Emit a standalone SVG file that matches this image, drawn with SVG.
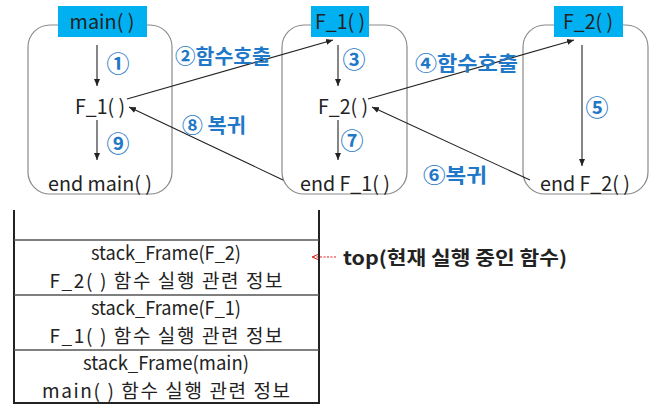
<svg xmlns="http://www.w3.org/2000/svg" width="659" height="411" viewBox="0 0 659 411">
<style>
.frame{fill:none;stroke:#8a8a8a;stroke-width:1.2}
.lbl{fill:#00B0F0}
.t{font-family:"Noto Sans CJK KR","Noto Sans",sans-serif;font-size:20px;fill:#222}
.s{font-family:"Noto Sans CJK KR","Noto Sans",sans-serif;font-size:19px;fill:#222}
.k{font-family:"Noto Sans CJK KR","Noto Sans",sans-serif;font-size:19px;fill:#222}
.c{text-anchor:middle}
.b{font-family:"Noto Sans CJK KR","Noto Sans",sans-serif;font-size:20px;font-weight:bold;fill:#1F78C8}
.n{font-family:"Noto Sans CJK KR","Noto Sans",sans-serif;font-size:23px;font-weight:bold;fill:#1F78C8;text-anchor:middle}
.ln{stroke:#222;stroke-width:1.1;fill:none;marker-end:url(#ah)}
.st{stroke:#222;stroke-width:2;fill:none}
.sep{stroke:#555;stroke-width:1.5}
</style>
<defs>
<marker id="ah" markerWidth="8" markerHeight="8" refX="7" refY="4" orient="auto" markerUnits="userSpaceOnUse">
<path d="M0,1 L7,4 L0,7 Z" fill="#222"/>
</marker>
<marker id="ahr" markerWidth="8" markerHeight="8" refX="7" refY="4" orient="auto" markerUnits="userSpaceOnUse">
<path d="M0,1 L7,4 L0,7" fill="none" stroke="#e02020" stroke-width="1"/>
</marker>
</defs>
<rect width="659" height="411" fill="#fff"/>

<g id="main">
<rect class="frame" x="28" y="25" width="144" height="169" rx="22"/>
<rect class="lbl" x="58" y="6" width="89" height="31"/>
<text class="t c" x="102" y="29" textLength="65" lengthAdjust="spacingAndGlyphs">main( )</text>
<text class="t c" x="100" y="114" textLength="50" lengthAdjust="spacingAndGlyphs">F_1( )</text>
<text class="t c" x="100" y="191" textLength="104" lengthAdjust="spacingAndGlyphs">end main( )</text>
</g>

<g id="f1">
<rect class="frame" x="282" y="25" width="125" height="169" rx="22"/>
<rect class="lbl" x="311" y="6" width="58" height="31"/>
<text class="t c" x="340" y="29" textLength="50" lengthAdjust="spacingAndGlyphs">F_1( )</text>
<text class="t c" x="343" y="114" textLength="50" lengthAdjust="spacingAndGlyphs">F_2( )</text>
<text class="t c" x="345" y="191" textLength="90" lengthAdjust="spacingAndGlyphs">end F_1( )</text>
</g>

<g id="f2">
<rect class="frame" x="523" y="25" width="125" height="169" rx="22"/>
<rect class="lbl" x="554" y="6" width="69" height="31"/>
<text class="t c" x="588" y="29" textLength="50" lengthAdjust="spacingAndGlyphs">F_2( )</text>
<text class="t c" x="585" y="191" textLength="90" lengthAdjust="spacingAndGlyphs">end F_2( )</text>
</g>

<g id="connectors">
<line class="ln" x1="97" y1="45" x2="97" y2="86"/>
<line class="ln" x1="97" y1="120" x2="97" y2="160"/>
<line class="ln" x1="338" y1="45" x2="338" y2="86"/>
<line class="ln" x1="338" y1="120" x2="338" y2="160"/>
<line class="ln" x1="582" y1="45" x2="582" y2="166"/>
<line class="ln" x1="127" y1="99" x2="333" y2="40"/>
<line class="ln" x1="283" y1="180" x2="129" y2="107"/>
<line class="ln" x1="368" y1="99" x2="574" y2="40"/>
<line class="ln" x1="530" y1="180" x2="372" y2="107"/>
<line x1="336" y1="257" x2="312" y2="257" stroke="#e02020" stroke-width="1" stroke-dasharray="2,1.5" marker-end="url(#ahr)"/>
</g>

<g id="labels">
<text class="n" x="118" y="72">①</text>
<text class="n" x="118" y="152">⑨</text>
<text class="n" x="354" y="68">③</text>
<text class="n" x="352" y="149">⑦</text>
<text class="n" x="597" y="116">⑤</text>
<text class="b" x="175" y="64" textLength="96" lengthAdjust="spacingAndGlyphs">②함수호출</text>
<text class="b" x="182" y="133" textLength="64" lengthAdjust="spacingAndGlyphs">⑧ 복귀</text>
<text class="b" x="415" y="71" textLength="103" lengthAdjust="spacingAndGlyphs">④함수호출</text>
<text class="b" x="423" y="183" textLength="64" lengthAdjust="spacingAndGlyphs">⑥복귀</text>
</g>

<g id="stack">
<line class="st" x1="14" y1="210" x2="14" y2="404"/>
<line class="st" x1="319" y1="210" x2="319" y2="404"/>
<line class="st" x1="13" y1="403" x2="320" y2="403"/>
<line class="sep" x1="14" y1="240" x2="319" y2="240"/>
<line class="sep" x1="14" y1="295" x2="319" y2="295"/>
<line class="sep" x1="14" y1="350" x2="319" y2="350"/>
<text class="s c" x="166" y="260" textLength="150" lengthAdjust="spacingAndGlyphs">stack_Frame(F_2)</text>
<text class="k c" x="166" y="288" textLength="233" lengthAdjust="spacing">F_2( ) 함수 실행 관련 정보</text>
<text class="s c" x="166" y="315" textLength="150" lengthAdjust="spacingAndGlyphs">stack_Frame(F_1)</text>
<text class="k c" x="166" y="343" textLength="233" lengthAdjust="spacing">F_1( ) 함수 실행 관련 정보</text>
<text class="s c" x="166" y="370" textLength="166" lengthAdjust="spacingAndGlyphs">stack_Frame(main)</text>
<text class="k c" x="166" y="398" textLength="248" lengthAdjust="spacing">main( ) 함수 실행 관련 정보</text>
</g>

<g id="top">
<text x="343" y="265" font-family="'Noto Sans CJK KR','Noto Sans',sans-serif" font-size="19" font-weight="bold" fill="#222" textLength="224" lengthAdjust="spacingAndGlyphs">top(현재 실행 중인 함수)</text>
</g>
</svg>
